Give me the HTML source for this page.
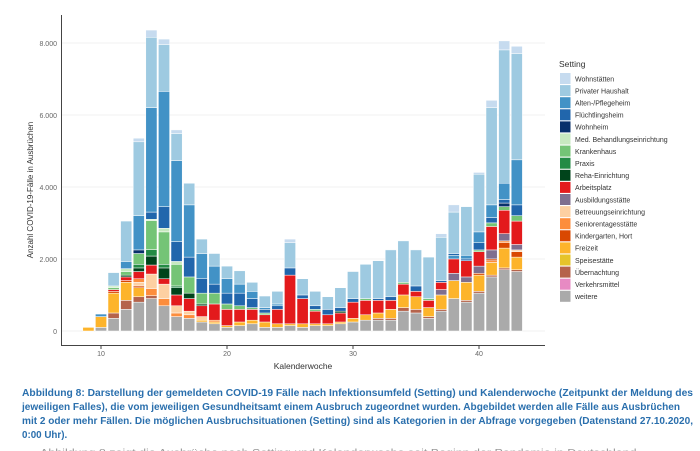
<!DOCTYPE html>
<html><head><meta charset="utf-8"><style>
html,body{margin:0;padding:0;background:#fff;width:700px;height:451px;overflow:hidden}
svg{display:block}
text{font-family:"Liberation Sans",sans-serif}
.cap{font-family:"Liberation Sans",sans-serif;font-weight:bold;fill:#2a6fad;font-size:9.8px}
</style></head><body>
<svg id="s" width="700" height="451" xmlns="http://www.w3.org/2000/svg">
<g stroke="#f0f0f0" stroke-width="1">
<line x1="62" x2="545" y1="331" y2="331"/><line x1="62" x2="545" y1="259" y2="259"/>
<line x1="62" x2="545" y1="187" y2="187"/><line x1="62" x2="545" y1="115" y2="115"/>
<line x1="62" x2="545" y1="43" y2="43"/>
</g>
<g id="bars"></g>
<line x1="61.5" y1="15" x2="61.5" y2="346" stroke="#444" stroke-width="1"/>
<line x1="61" y1="345.5" x2="545" y2="345.5" stroke="#444" stroke-width="1"/>
<g font-size="7" fill="#666" text-anchor="end">
<text x="57" y="334">0</text><text x="57" y="262">2.000</text><text x="57" y="190">4.000</text>
<text x="57" y="118">6.000</text><text x="57" y="46">8.000</text>
</g>
<g stroke="#444"><line x1="101" x2="101" y1="346" y2="349"/><line x1="227" x2="227" y1="346" y2="349"/><line x1="353" x2="353" y1="346" y2="349"/><line x1="479" x2="479" y1="346" y2="349"/></g>
<g font-size="7" fill="#666" text-anchor="middle">
<text x="101" y="356">10</text><text x="227" y="356">20</text><text x="353" y="356">30</text><text x="479" y="356">40</text>
</g>
<text x="303" y="369" font-size="8.5" fill="#333" text-anchor="middle">Kalenderwoche</text>
<text transform="translate(33,190) rotate(-90)" font-size="8" fill="#333" text-anchor="middle">Anzahl COVID-19-Fälle in Ausbrüchen</text>
<text x="559" y="67" font-size="8.5" fill="#333">Setting</text>
<g id="leg"></g>
<text class="cap" x="22" y="396" textLength="671" lengthAdjust="spacingAndGlyphs">Abbildung 8: Darstellung der gemeldeten COVID-19 Fälle nach Infektionsumfeld (Setting) und Kalenderwoche (Zeitpunkt der Meldung des</text>
<text class="cap" x="22" y="410" textLength="658" lengthAdjust="spacingAndGlyphs">jeweiligen Falles), die vom jeweiligen Gesundheitsamt einem Ausbruch zugeordnet wurden. Abgebildet werden alle Fälle aus Ausbrüchen</text>
<text class="cap" x="22" y="424" textLength="671" lengthAdjust="spacingAndGlyphs">mit 2 oder mehr Fällen. Die möglichen Ausbruchsituationen (Setting) sind als Kategorien in der Abfrage vorgegeben (Datenstand 27.10.2020,</text>
<text class="cap" x="22" y="438">0:00 Uhr).</text>
<text x="40" y="456" font-size="10" fill="#999" textLength="600" lengthAdjust="spacingAndGlyphs">Abbildung 8 zeigt die Ausbrüche nach Setting und Kalenderwoche seit Beginn der Pandemie in Deutschland.</text>
</svg>
<script>
var C={ws:"#c6dbef",pr:"#9ecae1",al:"#4292c6",fl:"#2166ac",wh:"#08306b",me:"#c7e9c0",kr:"#74c476",px:"#238b45",re:"#00441b",ar:"#e31a1c",au:"#7f6f8f",be:"#fdd0a2",se:"#fd8d3c",ki:"#d94801",fr:"#fdb42b",sp:"#e6c42a",ue:"#b5634b",ve:"#e78ac3",we:"#aaaaaa"};
var L=[["ws","Wohnstätten"],["pr","Privater Haushalt"],["al","Alten-/Pflegeheim"],["fl","Flüchtlingsheim"],["wh","Wohnheim"],["me","Med. Behandlungseinrichtung"],["kr","Krankenhaus"],["px","Praxis"],["re","Reha-Einrichtung"],["ar","Arbeitsplatz"],["au","Ausbildungsstätte"],["be","Betreuungseinrichtung"],["se","Seniorentagesstätte"],["ki","Kindergarten, Hort"],["fr","Freizeit"],["sp","Speisestätte"],["ue","Übernachtung"],["ve","Verkehrsmittel"],["we","weitere"]];
var D={
9:[["fr",.1]],
10:[["we",.1],["fr",.4],["al",.47]],
11:[["we",.35],["ue",.5],["fr",1.05],["ki",1.1],["ar",1.15],["kr",1.2],["me",1.25],["pr",1.62]],
12:[["we",.6],["ue",.85],["fr",1.35],["ki",1.4],["ar",1.5],["re",1.55],["kr",1.65],["me",1.73],["al",1.93],["pr",3.05]],
13:[["we",.8],["ue",.95],["fr",1.2],["ki",1.25],["be",1.35],["se",1.45],["ar",1.65],["re",1.75],["px",1.85],["kr",2.15],["wh",2.25],["al",3.2],["pr",5.25],["ws",5.35]],
14:[["we",.9],["ue",.98],["se",1.18],["be",1.58],["ar",1.83],["re",2.08],["px",2.26],["kr",3.06],["me",3.1],["fl",3.3],["al",6.2],["pr",8.15],["ws",8.35]],
15:[["we",.7],["se",.9],["be",1.3],["ar",1.45],["re",1.75],["px",1.85],["kr",2.75],["me",2.85],["fl",3.45],["al",6.65],["pr",7.95],["ws",8.1]],
16:[["we",.4],["se",.5],["be",.7],["ar",1.0],["re",1.2],["px",1.25],["kr",1.85],["me",1.93],["fl",2.48],["al",4.73],["pr",5.48],["ws",5.58]],
17:[["we",.35],["se",.45],["be",.55],["ar",.9],["re",1.05],["kr",1.5],["fl",2.05],["al",3.5],["pr",4.1]],
18:[["we",.25],["fr",.3],["be",.4],["ar",.7],["re",.75],["kr",1.05],["fl",1.45],["al",2.15],["pr",2.55]],
19:[["we",.2],["fr",.25],["se",.3],["ar",.75],["kr",1.05],["fl",1.3],["al",1.8],["pr",2.15]],
20:[["we",.1],["fr",.15],["ar",.6],["kr",.75],["fl",1.05],["al",1.45],["pr",1.8]],
21:[["we",.15],["fr",.25],["ar",.6],["kr",.7],["fl",1.05],["al",1.3],["pr",1.67]],
22:[["we",.2],["fr",.3],["ar",.6],["kr",.65],["fl",.9],["al",1.1],["pr",1.35]],
23:[["we",.1],["fr",.25],["ar",.45],["kr",.5],["fl",.6],["al",.65],["pr",.97]],
24:[["we",.1],["fr",.2],["ar",.6],["fl",.7],["al",.75],["pr",1.1]],
25:[["we",.15],["fr",.2],["ar",1.55],["fl",1.75],["pr",2.45],["ws",2.55]],
26:[["we",.1],["fr",.2],["ar",.9],["fl",1.0],["pr",1.45]],
27:[["we",.15],["fr",.2],["ar",.55],["kr",.6],["fl",.7],["pr",1.1]],
28:[["we",.15],["fr",.2],["ar",.45],["fl",.6],["pr",.95]],
29:[["we",.2],["fr",.25],["ar",.5],["re",.55],["fl",.65],["pr",1.2]],
30:[["we",.25],["fr",.35],["ar",.8],["fl",.9],["pr",1.65]],
31:[["we",.3],["fr",.45],["ar",.85],["kr",.9],["pr",1.85]],
32:[["we",.3],["ue",.35],["fr",.5],["ar",.85],["fl",.9],["pr",1.95]],
33:[["we",.3],["ue",.35],["fr",.6],["ar",.85],["fl",.95],["pr",2.25]],
34:[["we",.55],["ue",.65],["fr",1.0],["ar",1.3],["kr",1.35],["pr",2.5]],
35:[["we",.5],["ue",.6],["fr",.95],["ar",1.1],["fl",1.25],["pr",2.25]],
36:[["we",.35],["ue",.4],["fr",.65],["ar",.85],["kr",.9],["pr",2.05]],
37:[["we",.55],["ue",.6],["fr",1.0],["au",1.15],["ar",1.35],["fl",1.4],["pr",2.6],["ws",2.7]],
38:[["we",.9],["fr",1.4],["au",1.6],["ar",2.0],["al",2.1],["fl",2.15],["pr",3.3],["ws",3.5]],
39:[["we",.8],["ue",.85],["fr",1.35],["au",1.5],["ar",1.95],["fl",2.0],["al",2.1],["pr",3.45]],
40:[["we",1.05],["ue",1.1],["fr",1.55],["ki",1.6],["au",1.8],["ar",2.2],["kr",2.25],["fl",2.45],["al",2.75],["pr",4.35],["ws",4.4]],
41:[["we",1.5],["ue",1.55],["fr",1.9],["se",1.95],["ki",2.0],["au",2.25],["ar",2.9],["kr",3.0],["fl",3.15],["al",3.5],["pr",6.2],["ws",6.4]],
42:[["we",1.7],["ue",1.75],["fr",2.3],["ki",2.45],["se",2.5],["au",2.7],["ar",3.35],["kr",3.45],["wh",3.55],["fl",3.65],["al",4.1],["pr",7.8],["ws",8.05]],
43:[["we",1.65],["ue",1.7],["fr",2.05],["ki",2.2],["be",2.25],["au",2.4],["ar",3.05],["kr",3.2],["fl",3.5],["al",4.75],["pr",7.7],["ws",7.9]]};
var ns="http://www.w3.org/2000/svg",g=document.getElementById("bars");
function Y(v){return 331-v*36.04;}
function R(p,x,y,w,h,f,st){var r=document.createElementNS(ns,"rect");r.setAttribute("x",x);r.setAttribute("y",y);r.setAttribute("width",w);r.setAttribute("height",h);r.setAttribute("fill",f);if(st){r.setAttribute("stroke","#fff");r.setAttribute("stroke-width","0.5");}p.appendChild(r);}
for(var k in D){var w=+k,cx=101+(w-10)*12.6,prev=0;D[k].forEach(function(s){var y1=Y(s[1]),y0=Y(prev);R(g,cx-5.6,y1,11.2,y0-y1,C[s[0]],true);prev=s[1];});}
var lg=document.getElementById("leg");
L.forEach(function(it,i){var y=73+i*12.1;R(lg,560,y,10.5,11,C[it[0]]);var t=document.createElementNS(ns,"text");t.setAttribute("x",575);t.setAttribute("y",y+8.3);t.setAttribute("font-size","7");t.setAttribute("fill","#333");t.textContent=it[1];lg.appendChild(t);});
</script>
</body></html>
